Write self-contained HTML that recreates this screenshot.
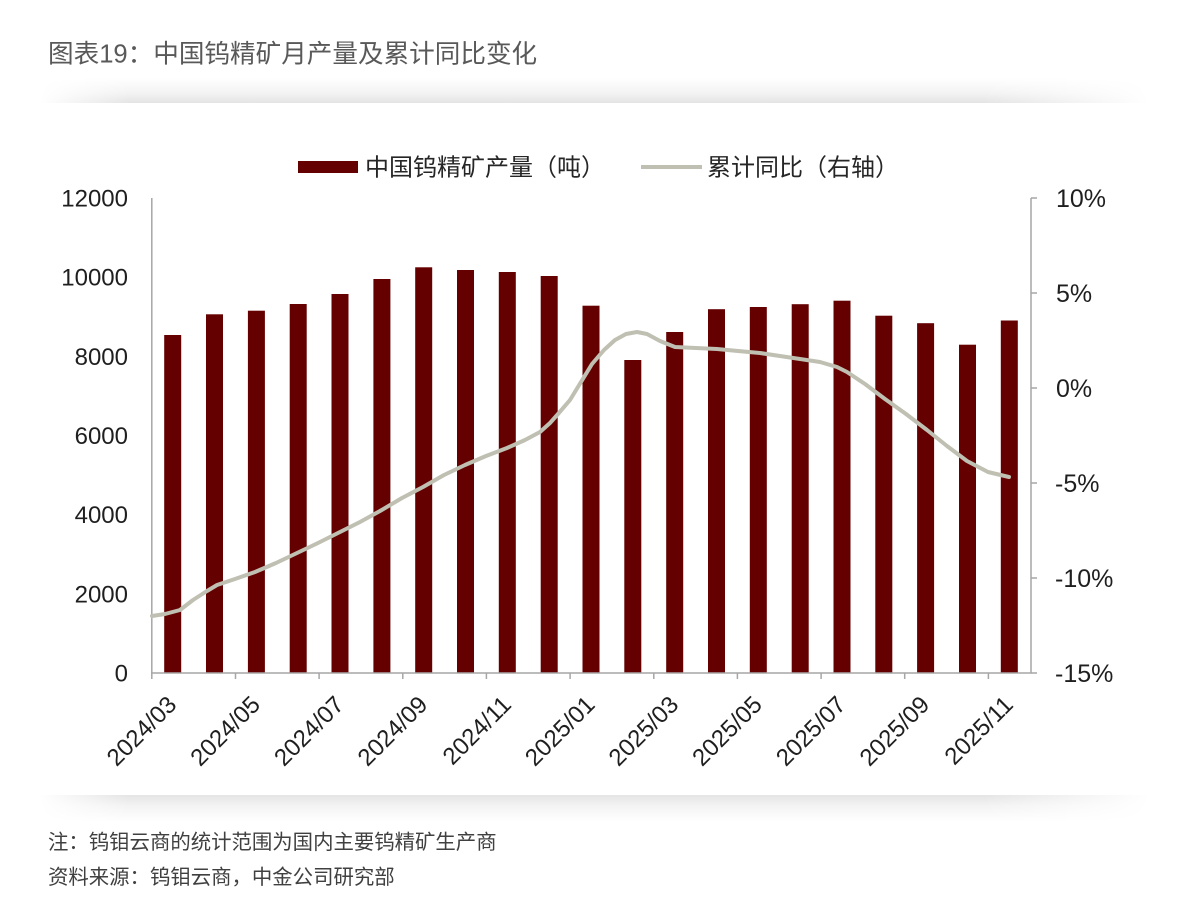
<!DOCTYPE html>
<html>
<head>
<meta charset="utf-8">
<style>
  html, body { margin:0; padding:0; background:#ffffff; }
  body { width:1200px; height:910px; overflow:hidden; }
  svg { display:block; }
  .cjk { font-family: "Liberation Sans", "Noto Sans CJK SC", "WenQuanYi Zen Hei", sans-serif; }
  .num { font-family: "Liberation Sans", Arial, sans-serif; }
</style>
</head>
<body>
<svg width="1200" height="910" viewBox="0 0 1200 910" xmlns="http://www.w3.org/2000/svg">
  <defs>
    <linearGradient id="topShade" x1="0" y1="0" x2="0" y2="1">
      <stop offset="0" stop-color="#ffffff"/>
      <stop offset="0.6" stop-color="#f3f3f3"/>
      <stop offset="1" stop-color="#e4e4e4"/>
    </linearGradient>
    <linearGradient id="botShade" x1="0" y1="0" x2="0" y2="1">
      <stop offset="0" stop-color="#e4e4e4"/>
      <stop offset="0.4" stop-color="#f3f3f3"/>
      <stop offset="1" stop-color="#ffffff"/>
    </linearGradient>
    <linearGradient id="hfade" x1="0" y1="0" x2="1" y2="0">
      <stop offset="0" stop-color="#000"/>
      <stop offset="0.08" stop-color="#fff"/>
      <stop offset="0.85" stop-color="#fff"/>
      <stop offset="1" stop-color="#000"/>
    </linearGradient>
    <mask id="hmask" maskUnits="userSpaceOnUse" x="0" y="0" width="1200" height="910">
      <rect x="40" y="0" width="1110" height="910" fill="url(#hfade)"/>
    </mask>
  </defs>

  <!-- title -->
  <text x="48" y="62.5" class="cjk" font-size="25.6" fill="#595959">图表19：中国钨精矿月产量及累计同比变化</text>

  <!-- shadows -->
  <g mask="url(#hmask)">
    <rect x="40" y="78" width="1110" height="25" fill="url(#topShade)"/>
    <rect x="40" y="795" width="1110" height="27" fill="url(#botShade)"/>
  </g>

  <!-- legend -->
  <rect x="298" y="161" width="60" height="12" fill="#640000"/>
  <text x="365" y="175.5" class="cjk" font-size="24" fill="#262626">中国钨精矿产量（吨）</text>
  <line x1="641" y1="167" x2="702" y2="167" stroke="#bfbfb2" stroke-width="4"/>
  <text x="707" y="175.5" class="cjk" font-size="24" fill="#262626">累计同比（右轴）</text>

  <!-- bars -->
  <g fill="#640000">
    <rect x="164.2" y="335" width="17" height="338"/>
    <rect x="206.0" y="314.3" width="17" height="358.7"/>
    <rect x="247.9" y="310.7" width="17" height="362.3"/>
    <rect x="289.7" y="304" width="17" height="369"/>
    <rect x="331.5" y="294" width="17" height="379"/>
    <rect x="373.4" y="279" width="17" height="394"/>
    <rect x="415.2" y="267.3" width="17" height="405.7"/>
    <rect x="457.0" y="270" width="17" height="403"/>
    <rect x="498.8" y="272" width="17" height="401"/>
    <rect x="540.7" y="276" width="17" height="397"/>
    <rect x="582.5" y="305.7" width="17" height="367.3"/>
    <rect x="624.3" y="360" width="17" height="313"/>
    <rect x="666.2" y="332" width="17" height="341"/>
    <rect x="708.0" y="309.2" width="17" height="363.8"/>
    <rect x="749.8" y="307" width="17" height="366"/>
    <rect x="791.7" y="304.2" width="17" height="368.8"/>
    <rect x="833.5" y="300.7" width="17" height="372.3"/>
    <rect x="875.3" y="315.7" width="17" height="357.3"/>
    <rect x="917.1" y="323.2" width="17" height="349.8"/>
    <rect x="959.0" y="344.7" width="17" height="328.3"/>
    <rect x="1000.8" y="320.5" width="17" height="352.5"/>
  </g>

  <!-- axes -->
  <g stroke="#a6a6a6" stroke-width="1.5" fill="none">
    <line x1="151.8" y1="198" x2="151.8" y2="673.5"/>
    <line x1="1031" y1="198" x2="1031" y2="673.5"/>
    <line x1="151" y1="673" x2="1031.5" y2="673"/>
    <line x1="151.8" y1="673" x2="151.8" y2="679"/>
    <line x1="235.5" y1="673" x2="235.5" y2="679"/>
    <line x1="319.1" y1="673" x2="319.1" y2="679"/>
    <line x1="402.8" y1="673" x2="402.8" y2="679"/>
    <line x1="486.4" y1="673" x2="486.4" y2="679"/>
    <line x1="570.1" y1="673" x2="570.1" y2="679"/>
    <line x1="653.8" y1="673" x2="653.8" y2="679"/>
    <line x1="737.4" y1="673" x2="737.4" y2="679"/>
    <line x1="821.1" y1="673" x2="821.1" y2="679"/>
    <line x1="904.7" y1="673" x2="904.7" y2="679"/>
    <line x1="988.4" y1="673" x2="988.4" y2="679"/>
    <line x1="1031" y1="198" x2="1037" y2="198"/>
    <line x1="1031" y1="293" x2="1037" y2="293"/>
    <line x1="1031" y1="388" x2="1037" y2="388"/>
    <line x1="1031" y1="483" x2="1037" y2="483"/>
    <line x1="1031" y1="578" x2="1037" y2="578"/>
    <line x1="1031" y1="673" x2="1037" y2="673"/>
  </g>

  <!-- line series -->
  <polyline fill="none" stroke="#bfbfb2" stroke-width="4" stroke-linejoin="round" stroke-linecap="round"
    points="152,616 165,614 180,610 193,600 207,591 217,585 235,579 255,572 276,563 297,553 318,543 340,532 360,522 380,511 402,498 423,487 444,475 465,465 486,456 507,448 525,440 540,432 550,423 558,414 570,400 581,382 592,364 604,350 615,340 626,334 637,332 647,334 660,341 675,347 696,348 717,349 738,351 760,353 780,356 800,359 820,362 837,367 847,372 865,384 885,399 906,414 927,430 947,446 967,461 988,472 1009,477"/>

  <!-- left labels -->
  <g class="num" font-size="24" fill="#1f1f1f" text-anchor="end">
    <text x="128" y="681.5">0</text>
    <text x="128" y="602.3">2000</text>
    <text x="128" y="523.2">4000</text>
    <text x="128" y="444">6000</text>
    <text x="128" y="364.8">8000</text>
    <text x="128" y="285.7">10000</text>
    <text x="128" y="206.5">12000</text>
  </g>

  <!-- right labels -->
  <g class="num" font-size="25" fill="#1f1f1f">
    <text x="1056" y="207">10%</text>
    <text x="1056" y="302">5%</text>
    <text x="1056" y="397">0%</text>
    <text x="1055" y="492">-5%</text>
    <text x="1055" y="587">-10%</text>
    <text x="1055" y="682">-15%</text>
  </g>

  <!-- x labels -->
  <g class="num" font-size="24" fill="#1f1f1f" text-anchor="end">
    <text transform="translate(178,706) rotate(-45)">2024/03</text>
    <text transform="translate(261.6,706) rotate(-45)">2024/05</text>
    <text transform="translate(345.3,706) rotate(-45)">2024/07</text>
    <text transform="translate(428.9,706) rotate(-45)">2024/09</text>
    <text transform="translate(512.6,706) rotate(-45)">2024/11</text>
    <text transform="translate(596.2,706) rotate(-45)">2025/01</text>
    <text transform="translate(679.9,706) rotate(-45)">2025/03</text>
    <text transform="translate(763.5,706) rotate(-45)">2025/05</text>
    <text transform="translate(847.2,706) rotate(-45)">2025/07</text>
    <text transform="translate(930.8,706) rotate(-45)">2025/09</text>
    <text transform="translate(1014.5,706) rotate(-45)">2025/11</text>
  </g>

  <!-- footer -->
  <text x="48" y="849" class="cjk" font-size="20.4" fill="#404040">注：钨钼云商的统计范围为国内主要钨精矿生产商</text>
  <text x="48" y="884" class="cjk" font-size="20.4" fill="#404040">资料来源：钨钼云商，中金公司研究部</text>
</svg>
</body>
</html>
